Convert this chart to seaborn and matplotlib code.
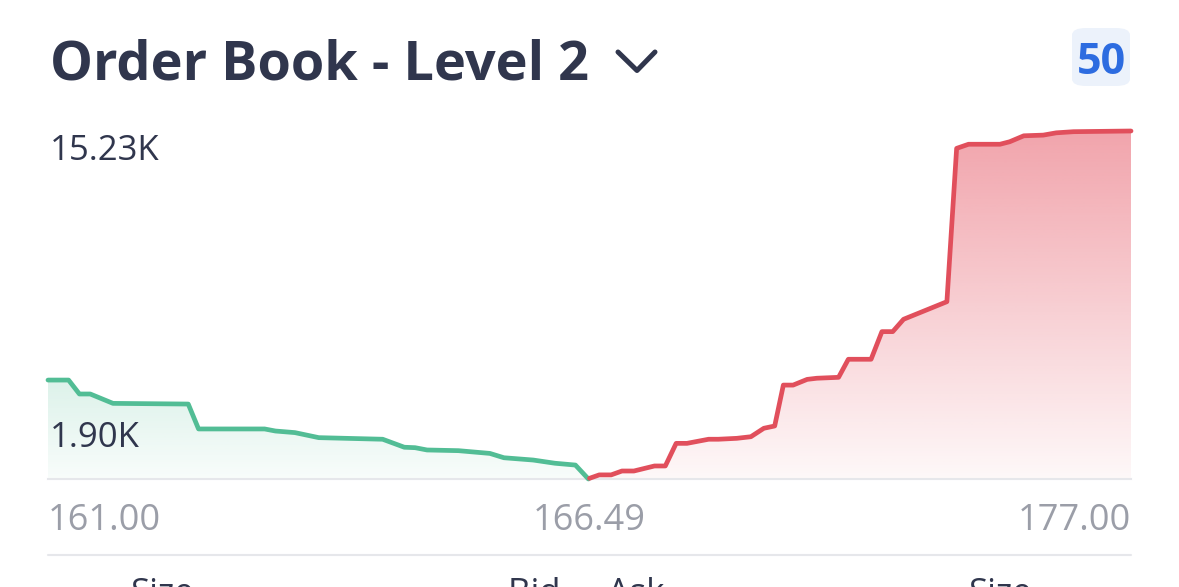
"""
Gráfico de profundidade do livro de ofertas (Level 2), bids à esquerda e asks à direita.
"""

import numpy as np
import pandas as pd
import matplotlib.pyplot as plt
import seaborn as sns
from matplotlib.patches import FancyBboxPatch
from matplotlib.lines import Line2D
from matplotlib.colors import to_rgb

# posição no livro (0-50 = bids, 50-100 = asks) e profundidade acumulada (milhares)
bid_pos = [0, 1.9, 2.9, 3.9, 6.0, 12.95, 13.9, 20.0, 21.0, 22.8, 25.0, 30.9,
           32.9, 33.9, 35.0, 37.9, 40.8, 42.1, 44.8, 46.8, 48.7, 49.9]
bid_depth = [4.33, 4.33, 3.72, 3.72, 3.31, 3.28, 2.19, 2.19, 2.10, 2.03, 1.81, 1.74,
             1.39, 1.37, 1.27, 1.24, 1.12, 0.93, 0.83, 0.69, 0.61, 0.0]
ask_pos = [50.0, 50.9, 52.0, 53.0, 54.1, 56.0, 57.0, 58.0, 59.0, 61.0, 61.9, 63.6,
           64.9, 66.1, 67.1, 67.9, 68.8, 70.1, 71.0, 73.0, 73.9, 76.0, 77.0, 78.0,
           79.0, 83.0, 83.9, 85.0, 87.9, 88.8, 90.1, 91.9, 93.1, 94.7, 100]
ask_depth = [0.03, 0.18, 0.18, 0.35, 0.35, 0.57, 0.57, 1.56, 1.56, 1.74, 1.74, 1.78,
             1.85, 2.22, 2.32, 4.11, 4.11, 4.36, 4.41, 4.45, 5.24, 5.24, 6.45, 6.45,
             6.99, 7.76, 14.47, 14.65, 14.65, 14.76, 15.02, 15.05, 15.15, 15.20, 15.23]

tick_pos = [0, 50, 100]
tick_labels = ['161.00', '166.49', '177.00']
max_depth = 15.23
mid_depth = 1.90
n_levels = '50'

bids = pd.DataFrame({'pos': bid_pos, 'depth': bid_depth})
asks = pd.DataFrame({'pos': ask_pos, 'depth': ask_depth})

sns.set_theme(style='white')
plt.rcParams['font.family'] = ['Open Sans', 'DejaVu Sans']

GREEN = '#52bd95'
RED = '#e14f5c'
DARK = '#30364d'
GRAY = '#9b9ea8'

W, H = 1179, 587
fig = plt.figure(figsize=(W / 100, H / 100), dpi=100)
fig.patch.set_facecolor('white')

# área do gráfico em pixels: x 48-1131, y 131-479
ax = fig.add_axes([48 / W, 1 - 479 / H, (1131 - 48) / W, (479 - 131) / H])


def gradient_fill(ax, df, color, top_alpha, bottom_alpha, ymax):
    poly = ax.fill_between(df['pos'], df['depth'], 0, facecolor='none', edgecolor='none')
    grad = np.zeros((256, 1, 4))
    grad[..., :3] = to_rgb(color)
    grad[..., 3] = np.linspace(top_alpha, bottom_alpha, 256)[:, None]
    im = ax.imshow(grad, aspect='auto', origin='upper', zorder=1,
                   extent=[df['pos'].min(), df['pos'].max(), 0, ymax])
    im.set_clip_path(poly.get_paths()[0], transform=ax.transData)


gradient_fill(ax, bids, GREEN, 0.6, 0.04, max_depth)
gradient_fill(ax, asks, '#e5505f', 0.52, 0.04, max_depth)

sns.lineplot(data=bids, x='pos', y='depth', color=GREEN, linewidth=3.4, estimator=None, ax=ax)
sns.lineplot(data=asks, x='pos', y='depth', color=RED, linewidth=3.4, estimator=None, ax=ax)
for ln in ax.lines:
    ln.set_clip_on(False)
    ln.set_solid_joinstyle('round')
    ln.set_solid_capstyle('round')
    ln.set_zorder(3)

ax.set_xlim(0, 100)
ax.set_ylim(0, max_depth)
ax.set_xlabel('')
ax.set_ylabel('')
ax.set_yticks([])
ax.set_xticks(tick_pos, tick_labels)
ax.tick_params(axis='x', length=0, pad=17.5, labelsize=26, labelcolor=GRAY)
labels = ax.get_xticklabels()
labels[0].set_ha('left')
labels[-1].set_ha('right')
for s in ['top', 'left', 'right']:
    ax.spines[s].set_visible(False)
ax.spines['bottom'].set_color('#e6e7eb')
ax.spines['bottom'].set_linewidth(1.5)
ax.set_facecolor('none')

# rótulos de profundidade
ax.annotate(f'{max_depth:.2f}K', xy=(0, max_depth), xytext=(1.5, -29 * 0.72),
            textcoords='offset points', fontsize=25, color=DARK, va='baseline', ha='left')
ax.annotate(f'{mid_depth:.2f}K', xy=(0, mid_depth), xytext=(1.5, -11 * 0.72),
            textcoords='offset points', fontsize=25, color=DARK, va='baseline', ha='left')

# título e controles
fig.text(50 / W, 1 - 79 / H, 'Order Book - Level 2', fontsize=39, fontweight='bold',
         color=DARK, va='baseline', ha='left')
fig.add_artist(Line2D([618 / W, 637 / W, 655 / W], [1 - 52 / H, 1 - 70.5 / H, 1 - 52 / H],
                      color=DARK, linewidth=3.6, solid_capstyle='round',
                      solid_joinstyle='round'))
fig.add_artist(FancyBboxPatch((1072 / W, 1 - 86 / H), 58 / W, 58 / H,
                              boxstyle='round,pad=0,rounding_size=0.012',
                              facecolor='#ecf2fb', edgecolor='none',
                              transform=fig.transFigure))
fig.text(1101 / W, 1 - 74 / H, n_levels, fontsize=31, fontweight='bold', color='#2d6ce0',
         va='baseline', ha='center')

# separador e cabeçalhos da tabela (cortados na borda, como no original)
fig.add_artist(Line2D([48 / W, 1131 / W], [1 - 555 / H, 1 - 555 / H], color='#e6e7eb', linewidth=1.5))
for xp, txt, ha in [(130, 'Size', 'left'), (586, 'Bid  -  Ask', 'center'), (968, 'Size', 'left')]:
    fig.text(xp / W, 1 - 603 / H, txt, fontsize=25, color='#30364d', ha=ha, va='baseline')

plt.savefig('out.png', dpi=100)
plt.close()
